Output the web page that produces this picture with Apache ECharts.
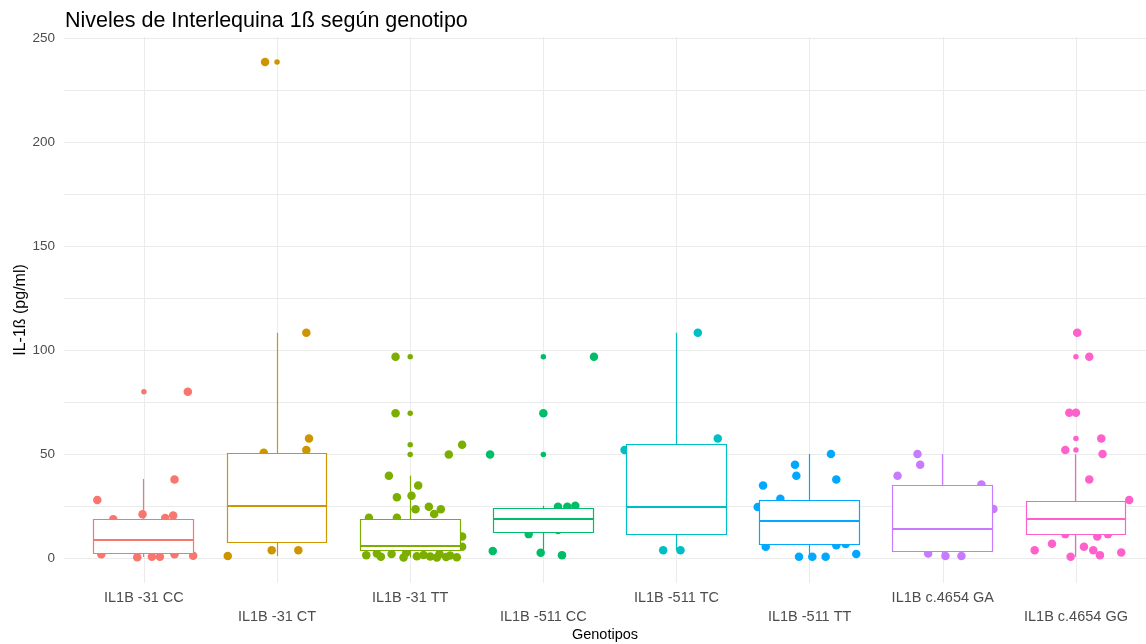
<!DOCTYPE html>
<html>
<head>
<meta charset="utf-8">
<script src="https://cdn.jsdelivr.net/npm/echarts@6/dist/echarts.min.js"></script>
<style>html,body{margin:0;padding:0;background:#fff;}#chart{width:1146px;height:644px;}</style>
</head>
<body>
<div id="chart"></div>
<script>
const titleText = 'Niveles de Interlequina 1ß según genotipo';
const xTitle = 'Genotipos';
const yTitle = 'IL-1ß (pg/ml)';
const categories = ['IL1B -31 CC', 'IL1B -31 CT', 'IL1B -31 TT', 'IL1B -511 CC', 'IL1B -511 TC', 'IL1B -511 TT', 'IL1B c.4654 GA', 'IL1B c.4654 GG'];
const colors = ['#F8766D', '#CD9600', '#7CAE00', '#00BE67', '#00BFC4', '#00A9FF', '#C77CFF', '#FF61CC'];
const yGridValues = [0, 25, 50, 75, 100, 125, 150, 175, 200, 225, 250];
const yLabelValues = [0, 50, 100, 150, 200, 250];

// [lower whisker, Q1, median, Q3, upper whisker]
const boxStats = [
  [0.5, 2.25, 8.65, 18.75, 38],
  [1.0, 7.4, 25, 50.3, 108.3],
  [0.3, 3.4, 5.8, 18.75, 39.6],
  [2.6, 12.4, 18.6, 23.9, 25.1],
  [3.8, 11.4, 24.4, 54.6, 108.3],
  [0.6, 6.7, 17.9, 27.9, 50],
  [1.0, 3.2, 13.8, 34.9, 50],
  [0.6, 11.4, 18.9, 27.4, 50]
];

const outliers = [
  [80],
  [238.5],
  [96.8, 69.6, 54.5, 49.8],
  [96.8, 69.6, 49.8],
  [],
  [],
  [],
  [108.3, 96.8, 69.9, 57.5, 51.9]
];

// jittered observations: [horizontal jitter (category units), value]
const jitter = [
  [[0.33,80],[0.23,37.8],[-0.35,27.9],[-0.01,21],[0.22,20.5],[0.16,19.2],[-0.23,18.6],[-0.32,1.8],[0.06,0.6],[0.12,0.6],[0.23,1.8],[0.37,1.1],[-0.05,0.4]],
  [[-0.09,238.5],[0.22,108.3],[0.24,57.5],[0.22,51.9],[-0.10,50.6],[-0.04,3.8],[0.16,3.8],[-0.37,1.0]],
  [[-0.11,96.8],[-0.11,69.6],[0.39,54.5],[0.29,49.8],[-0.16,39.6],[0.06,34.9],[-0.10,29.2],[0.01,30],[0.04,23.4],[0.14,24.7],[0.23,23.4],[0.18,21.2],[-0.31,19.4],[-0.10,19.4],[0.39,10.3],[0.39,5.4],[-0.33,1.4],[-0.22,0.6],[-0.14,1.9],[-0.03,2.6],[0.10,1.5],[0.15,0.8],[0.20,0.3],[0.27,0.5],[0.30,1.2],[0.35,0.4],[-0.05,0.3],[0.05,0.9],[-0.25,2.2],[0.22,2.0]],
  [[0.38,96.8],[-0.40,49.8],[0.0,69.6],[0.11,24.7],[0.18,24.7],[0.24,25.1],[-0.11,11.5],[0.11,13.5],[-0.38,3.4],[-0.02,2.6],[0.14,1.4]],
  [[0.16,108.3],[0.31,57.5],[-0.39,51.9],[-0.10,3.8],[0.03,3.8]],
  [[0.16,50],[-0.11,44.9],[-0.10,39.6],[0.20,37.8],[-0.35,34.9],[-0.22,28.5],[-0.39,24.5],[-0.33,5.4],[0.20,6.2],[0.27,6.7],[-0.08,0.6],[0.02,0.6],[0.12,0.6],[0.35,1.9]],
  [[-0.19,50],[-0.17,44.9],[-0.34,39.6],[0.29,35.4],[0.38,23.6],[-0.11,2.2],[0.02,1.0],[0.14,1.0]],
  [[0.01,108.3],[0.10,96.8],[-0.05,69.9],[0.0,69.9],[0.19,57.5],[-0.08,51.9],[0.20,50],[0.10,37.8],[0.40,27.9],[-0.08,11.5],[0.16,10.3],[0.24,11.5],[-0.18,6.9],[-0.31,3.8],[0.06,5.4],[0.13,3.8],[0.18,1.4],[0.34,2.7],[-0.04,0.6]]
];

const FONT = '"Liberation Sans", Arial, sans-serif';
const xPositions = categories.map((c, i) => i + 1);
const BOX_HALF = 0.375;

const series = [];
// gridlines (kept beneath every mark)
series.push({
  type: 'scatter', data: [], z: 0, silent: true,
  markLine: {
    z: 0, zlevel: 0,
    silent: true, symbol: 'none', animation: false,
    label: { show: false },
    lineStyle: { color: '#ebebeb', width: 1, type: 'solid', opacity: 1 },
    emphasis: { disabled: true },
    data: yGridValues.map(v => ({ yAxis: v })).concat(xPositions.map(v => ({ xAxis: v })))
  }
});
// jitter points
jitter.forEach((pts, i) => {
  series.push({
    type: 'scatter', z: 1, silent: true,
    symbol: 'circle', symbolSize: 8.5,
    itemStyle: { color: colors[i], opacity: 1, borderWidth: 0 },
    data: pts.map(p => [xPositions[i] + p[0], p[1]])
  });
});
// boxes
function crisp(v) { return Math.round(v - 0.5) + 0.5; }
series.push({
  type: 'custom', z: 2, silent: true,
  data: boxStats.map((s, i) => [xPositions[i]].concat(s)),
  encode: { x: 0, y: [1, 2, 3, 4, 5] },
  renderItem: function (params, api) {
    const x = api.value(0);
    const lo = api.value(1), q1 = api.value(2), med = api.value(3), q3 = api.value(4), hi = api.value(5);
    const c = colors[params.dataIndex];
    const pTL = api.coord([x - BOX_HALF, q3]);
    const pBR = api.coord([x + BOX_HALF, q1]);
    const pC = api.coord([x, med]);
    const pHi = api.coord([x, hi]);
    const pLo = api.coord([x, lo]);
    const cx = crisp(pC[0]);
    const x0 = crisp(pTL[0]), x1 = crisp(pBR[0]);
    const yT = crisp(pTL[1]), yB = crisp(pBR[1]);
    const yM = Math.round(pC[1]);
    const st = { stroke: c, lineWidth: 1.2, fill: null, opacity: 1 };
    return {
      type: 'group',
      children: [
        { type: 'line', shape: { x1: cx, y1: pHi[1], x2: cx, y2: yT }, style: st },
        { type: 'line', shape: { x1: cx, y1: yB, x2: cx, y2: pLo[1] }, style: st },
        { type: 'rect', shape: { x: x0, y: yT, width: x1 - x0, height: yB - yT }, style: { fill: '#ffffff', stroke: c, lineWidth: 1.2, opacity: 1 } },
        { type: 'line', shape: { x1: x0, y1: yM, x2: x1, y2: yM }, style: { stroke: c, lineWidth: 2, opacity: 1 } }
      ]
    };
  }
});
// outliers
outliers.forEach((vals, i) => {
  series.push({
    type: 'scatter', z: 3, silent: true,
    symbol: 'circle', symbolSize: 5.5,
    itemStyle: { color: colors[i], opacity: 1, borderWidth: 0 },
    data: vals.map(v => [xPositions[i], v])
  });
});

const chart = echarts.init(document.getElementById('chart'), null, { renderer: 'canvas' });
chart.setOption({
  animation: false,
  backgroundColor: '#ffffff',
  textStyle: { fontFamily: FONT },
  title: {
    text: titleText, left: 60, top: 5,
    textStyle: { fontSize: 21.5, fontWeight: 'normal', color: '#000', fontFamily: FONT }
  },
  grid: { left: 64, right: 0, top: 37, bottom: 61, containLabel: false, outerBoundsMode: 'none' },
  xAxis: {
    type: 'value', min: 0.4, max: 8.526,
    axisLine: { show: false }, axisTick: { show: false }, splitLine: { show: false },
    axisLabel: {
      customValues: xPositions,
      color: '#4d4d4d', fontSize: 14.5, margin: 5, lineHeight: 19, fontFamily: FONT,
      hideOverlap: false,
      formatter: function (v) {
        const i = Math.round(v) - 1;
        return i % 2 ? '\n' + categories[i] : categories[i];
      }
    },
    name: xTitle, nameLocation: 'middle', nameGap: 44, nameMoveOverlap: false,
    nameTextStyle: { fontSize: 14.5, color: '#000', fontFamily: FONT }
  },
  yAxis: {
    type: 'value', min: -12, max: 250.5,
    axisLine: { show: false }, axisTick: { show: false }, splitLine: { show: false },
    axisLabel: { customValues: yLabelValues, color: '#4d4d4d', fontSize: 13.5, margin: 9, fontFamily: FONT },
    name: yTitle, nameLocation: 'middle', nameGap: 35, nameRotate: 90, nameMoveOverlap: false,
    nameTextStyle: { fontSize: 16, color: '#000', fontFamily: FONT }
  },
  series: series
});
</script>
</body>
</html>
